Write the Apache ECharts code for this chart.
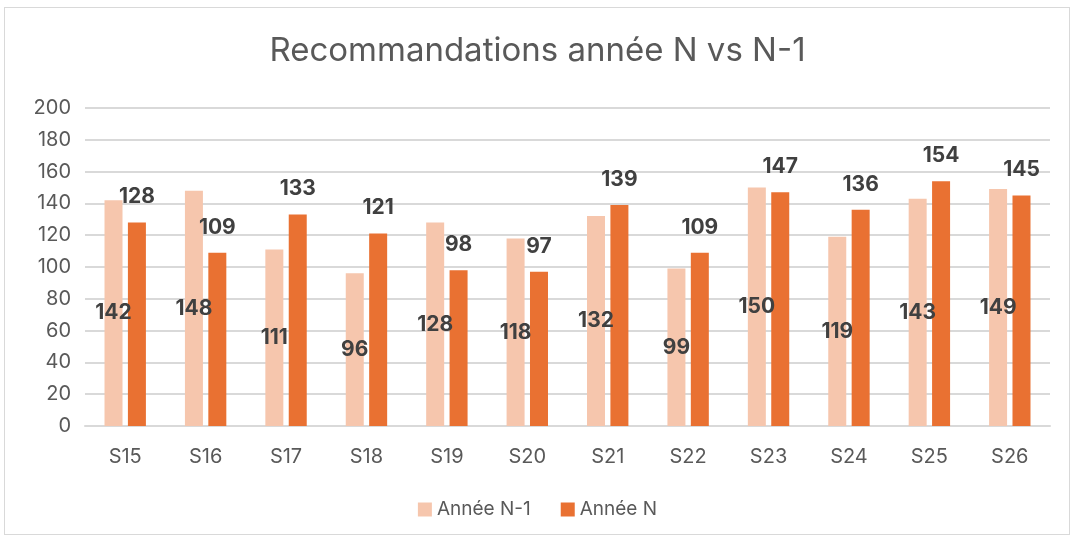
<!DOCTYPE html>
<html>
<head>
<meta charset="utf-8">
<script src="https://cdn.jsdelivr.net/npm/echarts@6/dist/echarts.min.js"></script>
<style>
  html, body { margin: 0; padding: 0; background: #fff; }
  #frame {
    position: absolute; left: 4px; top: 7px; width: 1066px; height: 528px;
    border: 1px solid #d9d9d9; box-sizing: border-box;
  }
  #mychart { position: absolute; left: 0; top: 0; width: 1075px; height: 541px; }
</style>
</head>
<body>
<div id="frame"></div>
<div id="mychart"></div>
<script>
  const weeks = ["S15", "S16", "S17", "S18", "S19", "S20", "S21", "S22", "S23", "S24", "S25", "S26"];
  const anneePrec = [142, 148, 111, 96, 128, 118, 132, 99, 150, 119, 143, 149];
  const anneeCour = [128, 109, 133, 121, 98, 97, 139, 109, 147, 136, 154, 145];

  const font = "Inter, 'Liberation Sans', sans-serif";
  const chart = echarts.init(document.getElementById("mychart"));
  const option = {
    animation: false,
    textStyle: { fontFamily: font },
    title: {
      text: "Recommandations année N vs N-1",
      left: "center",
      top: 30,
      textStyle: { fontSize: 33, fontWeight: "normal", color: "#595959", fontFamily: font }
    },
    legend: {
      data: ["Année N-1", "Année N"],
      bottom: 17,
      left: "center",
      icon: "rect",
      itemWidth: 14,
      itemHeight: 14,
      itemGap: 30,
      textStyle: { fontSize: 19, color: "#595959", fontFamily: font }
    },
    grid: { left: 85, right: 25, top: 108, bottom: 115, containLabel: false },
    xAxis: {
      type: "category",
      data: weeks,
      axisLine: { lineStyle: { color: "#d9d9d9", width: 2 } },
      axisTick: { show: false },
      axisLabel: { fontSize: 20, color: "#595959", margin: 21 }
    },
    yAxis: {
      type: "value",
      min: 0,
      max: 200,
      interval: 20,
      axisLine: { show: false },
      axisTick: { show: false },
      axisLabel: { fontSize: 20, color: "#595959", margin: 14 }
    ,
      splitLine: { lineStyle: { color: "#d9d9d9", width: 2 } }
    },
    series: [
      {
        name: "Année N-1",
        type: "bar",
        data: anneePrec,
        barWidth: 18,
        barGap: "30%",
        itemStyle: { color: "#F6C6AD" },
        label: {
          show: true,
          position: "inside",
          fontSize: 21,
          fontWeight: "bold",
          color: "#404040"
        }
      },
      {
        name: "Année N",
        type: "bar",
        data: anneeCour,
        barWidth: 18,
        itemStyle: { color: "#E97132" },
        label: {
          show: true,
          position: "top",
          distance: 15,
          fontSize: 21,
          fontWeight: "bold",
          color: "#404040"
        }
      }
    ]
  };
  chart.setOption(option);
</script>
</body>
</html>
